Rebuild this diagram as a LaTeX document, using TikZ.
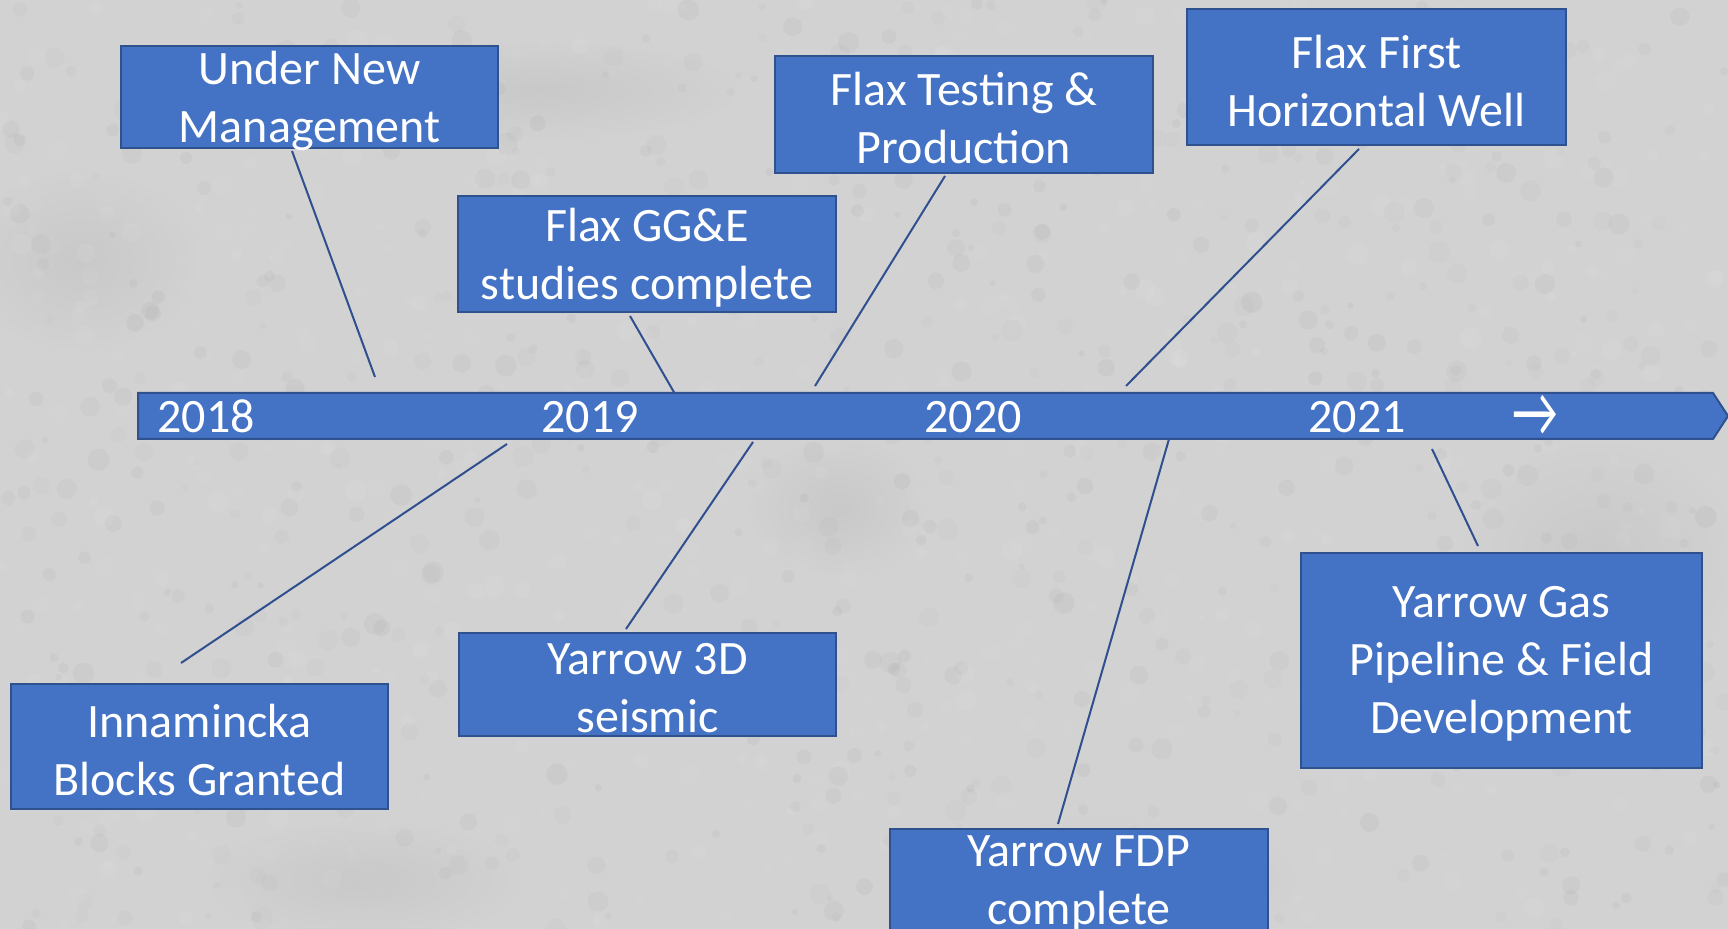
\documentclass[tikz,border=0pt]{standalone}
\usepackage{fontspec}
\setmainfont{Carlito}
\usetikzlibrary{calc}
\definecolor{bgGray}{HTML}{D2D2D2}
\definecolor{boxBlue}{HTML}{4472C4}
\definecolor{edgeBlue}{HTML}{2F528F}
\definecolor{linkBlue}{HTML}{2F4F8F}

\begin{document}
\begin{tikzpicture}[x=0.5pt,y=-0.5pt,
  event/.style={draw=edgeBlue, line width=1pt, fill=boxBlue, inner sep=0pt},
  caption/.style={text=white, align=center, inner sep=0pt, yshift=-1.8pt,
    font=\fontsize{24}{29}\selectfont},
  year/.style={text=white, anchor=base, inner sep=0pt, font=\fontsize{24}{29}\selectfont},
  link/.style={draw=linkBlue, line width=1pt}]

% concrete-like backdrop
\fill[bgGray] (0,0) rectangle (1728,929);
\useasboundingbox (0,0) rectangle (1728,929);
\foreach \cx/\cy/\rx/\ry in {838/507/90/70, 364/880/160/60, 1100/880/200/60, 80/260/120/90, 1600/560/140/120, 540/90/200/50}
  \shade[inner color=black!28, outer color=bgGray, opacity=0.35] (\cx,\cy) ellipse[x radius=\rx, y radius=\ry];
\pgfmathsetseed{7}
\foreach \i in {1,...,1400}{
  \pgfmathsetmacro\rx{rnd*1728}
  \pgfmathsetmacro\ry{rnd*929}
  \pgfmathsetmacro\rr{3+rnd*8}
  \pgfmathsetmacro\op{0.02+0.04*rnd}
  \pgfmathtruncatemacro\pick{rnd<0.5}
  \ifnum\pick=1
    \fill[white, opacity=\op] (\rx,\ry) circle[radius=\rr];
  \else
    \fill[black!60, opacity=\op] (\rx,\ry) circle[radius=\rr];
  \fi
}

% timeline bar
\draw[draw=edgeBlue, line width=1pt, fill=boxBlue]
  (138,393) -- (1713,393) -- (1728,416) -- (1713,439) -- (138,439) -- cycle;
\node[year] (y2018) at (206,433) {2018};
\node[year] (y2019) at (590,433) {2019};
\node[year] (y2020) at (973,433) {2020};
\node[year] (y2021) at (1357,433) {2021};
\node[text=white, inner sep=0pt, font=\fontsize{24}{29}\selectfont] (fwd) at (1535,416) {\scalebox{1.05}[1.5]{→}};

% events above the bar
\node[event, minimum width=188.5pt, minimum height=51pt,
  label={[caption]center:Under New\\Management}] (unm) at (309.5,97) {};
\node[event, minimum width=189pt, minimum height=58pt,
  label={[caption]center:Flax GG\&E\\studies complete}] (gge) at (647,254) {};
\node[event, minimum width=189pt, minimum height=58.5pt,
  label={[caption]center:Flax Testing \&\\Production}] (test) at (964,114.5) {};
\node[event, minimum width=189.5pt, minimum height=68pt,
  label={[caption]center:Flax First\\Horizontal Well}] (first) at (1376.5,77) {};

% events below the bar
\node[event, minimum width=188.5pt, minimum height=62.5pt,
  label={[caption]center:Innamincka\\Blocks Granted}] (inn) at (199.5,746.5) {};
\node[event, minimum width=188.5pt, minimum height=51.5pt,
  label={[caption]center:Yarrow 3D\\seismic}] (y3d) at (647.5,684.5) {};
\node[event, minimum width=189pt, minimum height=51pt,
  label={[caption]center:Yarrow FDP\\complete}] (fdp) at (1079,880) {};
\node[event, minimum width=200.5pt, minimum height=107.5pt,
  label={[caption]center:Yarrow Gas\\Pipeline \& Field\\Development}] (gas) at (1501.5,660.5) {};

% points where the leaders meet the bar
\coordinate (unm-end) at (375,377);
\coordinate (gge-end) at (675,394);
\coordinate (test-end) at (815,386);
\coordinate (first-end) at (1126,386);
\coordinate (inn-end) at (507,444);
\coordinate (y3d-end) at (753,442);
\coordinate (fdp-end) at (1169,439);
\coordinate (gas-end) at (1432,449);

% leaders
\draw[link] ($(unm.south west)+(172,2)$) -- (unm-end);
\draw[link] ($(gge.south west)+(173,3)$) -- (gge-end);
\draw[link] ($(test.south west)+(171,2)$) -- (test-end);
\draw[link] ($(first.south west)+(173,3)$) -- (first-end);
\draw[link] ($(inn.north west)+(171,-20)$) -- (inn-end);
\draw[link] ($(y3d.north west)+(168,-3)$) -- (y3d-end);
\draw[link] ($(fdp.north west)+(169,-4)$) -- (fdp-end);
\draw[link] ($(gas.north west)+(178,-6)$) -- (gas-end);
\end{tikzpicture}
\end{document}
